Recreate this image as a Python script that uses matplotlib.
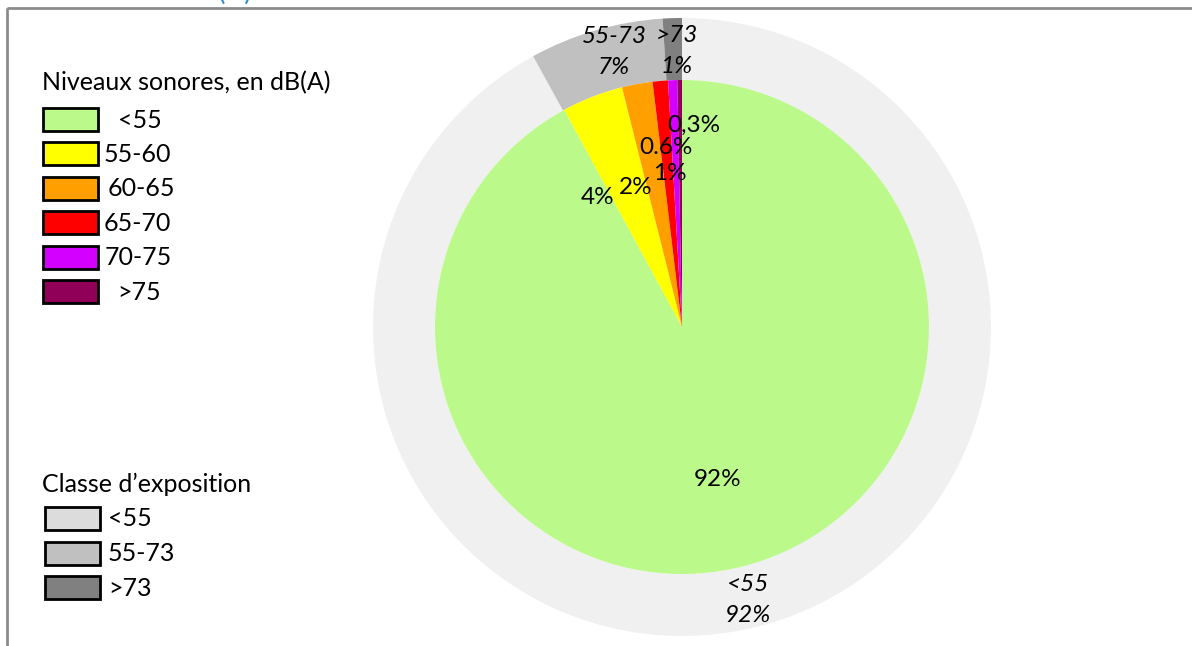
import matplotlib.pyplot as plt
from matplotlib.patches import Rectangle

plt.rcParams['font.family'] = ['Lato', 'DejaVu Sans']

# Niveaux sonores (disque central)
niveaux = ['<55', '55-60', '60-65', '65-70', '70-75', '>75']
niveaux_pct = [92, 4, 2, 1, 0.6, 0.3]
niveaux_labels = ['92%', '4%', '2%', '1%', '0.6%', '0,3%']
niveaux_colors = ['#bbf98b', '#ffff00', '#ffa000', '#ff0000', '#d400ff', '#900058']

# Classes d'exposition (couronne)
classes = ['<55', '55-73', '>73']
classes_pct = [92, 7, 1]
classes_colors = ['#f0f0f0', '#c0c0c0', '#808080']
classes_legend_colors = ['#dcdcdc', '#c0c0c0', '#808080']

W, H = 1192, 646
fig = plt.figure(figsize=(W / 100, H / 100), dpi=100)

# calque de fond en pixels : cadre, titre, légendes
bg = fig.add_axes([0, 0, 1, 1])
bg.set_xlim(0, W)
bg.set_ylim(H, 0)
bg.axis('off')
bg.add_patch(Rectangle((7, 8), 1300, 700, fill=False, edgecolor='#8c8c8c', linewidth=2))
bg.text(26, -0.5, 'Toutes sources (A)', color='#2e8bd8', fontsize=20, ha='left', va='baseline')

# légende des niveaux sonores
bg.text(42, 83, 'Niveaux sonores, en dB(A)', fontsize=18, va='center')
lab_x = [118, 104, 108, 104, 105, 117]
for i, (lab, col) in enumerate(zip(niveaux, niveaux_colors)):
    y0 = 108 + i * 34.4
    bg.add_patch(Rectangle((43, y0), 55, 23, facecolor=col, edgecolor='black', linewidth=2))
    bg.text(lab_x[i], y0 + 12, lab, fontsize=18, va='center')

# légende des classes d'exposition
bg.text(42, 484, 'Classe d\u2019exposition', fontsize=18, va='center')
for i, (lab, col) in enumerate(zip(classes, classes_legend_colors)):
    y0 = 507 + i * 34.5
    bg.add_patch(Rectangle((45, y0), 55, 23, facecolor=col, edgecolor='black', linewidth=2))
    bg.text(108, y0 + 12, lab, fontsize=18, va='center')

# graphique en anneau
cx, cy, R = 682, 327, 309
ax = fig.add_axes([(cx - R) / W, (H - cy - R) / H, 2 * R / W, 2 * R / H])
r_in = 247 / R
ax.pie(classes_pct, radius=1, colors=classes_colors, startangle=90, counterclock=False,
       wedgeprops=dict(width=1 - r_in, linewidth=0))
ax.pie(niveaux_pct, radius=r_in, colors=niveaux_colors, startangle=90, counterclock=False,
       wedgeprops=dict(linewidth=0))
ax.set_xlim(-1, 1)
ax.set_ylim(-1, 1)
ax.axis('off')

# étiquettes (décalages en pixels depuis le centre)
niveaux_pos = [(36, -153), (-84, 130), (-46, 139), (-12, 154), (-16, 180), (12, 202)]
for txt, (dx, dy) in zip(niveaux_labels, niveaux_pos):
    ax.text(dx / R, dy / R, txt, fontsize=17.5, ha='center', va='center')

classes_pos = [(66, -273), (-68, 275), (-5, 276)]
for lab, v, (dx, dy) in zip(classes, classes_pct, classes_pos):
    ax.text(dx / R, dy / R, f'{lab}\n{v}%', fontsize=17.5, style='italic',
            ha='center', va='center', linespacing=1.6)

fig.savefig('out.png', dpi=100)
